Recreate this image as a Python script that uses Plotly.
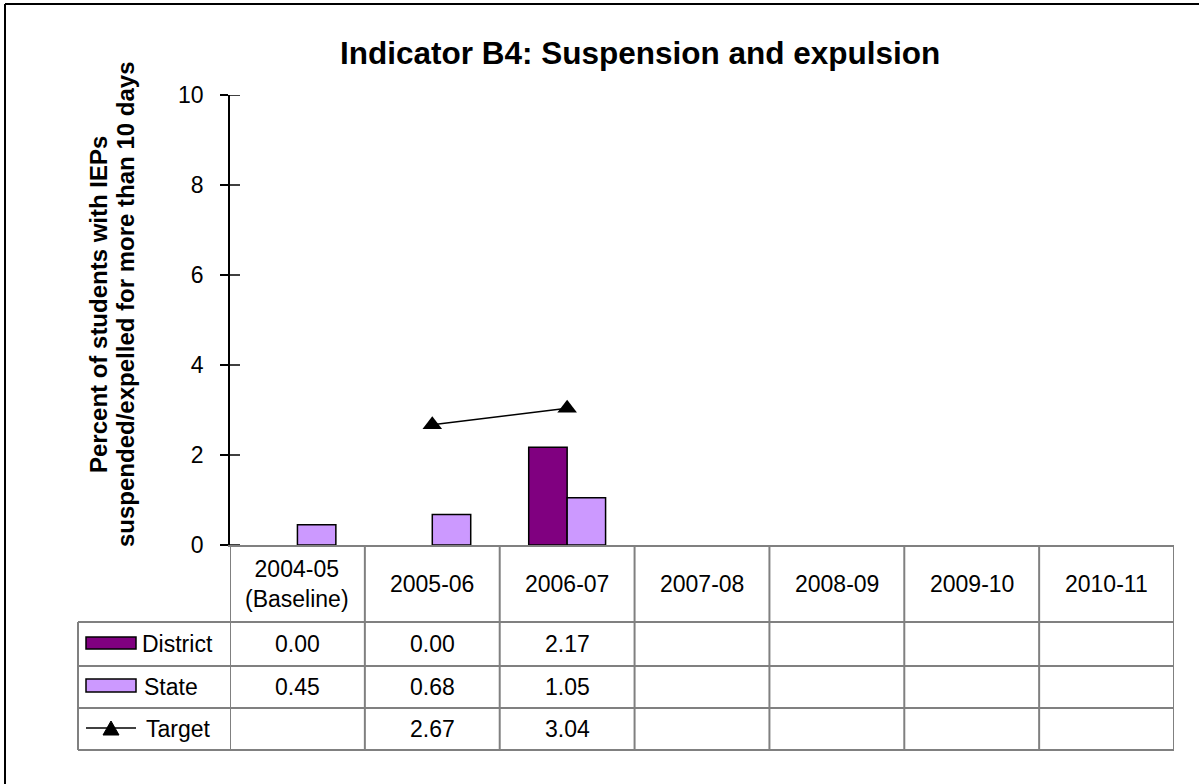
import plotly.graph_objects as go

# ---------------- data ----------------
categories = ["2004-05", "2005-06", "2006-07", "2007-08", "2008-09", "2009-10", "2010-11"]
header_labels = ["2004-05<br>(Baseline)", "2005-06", "2006-07", "2007-08", "2008-09", "2009-10", "2010-11"]
district = [0.00, 0.00, 2.17, None, None, None, None]
state = [0.45, 0.68, 1.05, None, None, None, None]
target = [None, 2.67, 3.04, None, None, None, None]
y_ticks = [0, 2, 4, 6, 8, 10]
title_text = "Indicator B4: Suspension and expulsion"
ytitle_lines = ["Percent of students with IEPs", "suspended/expelled for more than 10 days"]
series_names = ["District", "State", "Target"]

# ---------------- layout geometry (pixels) ----------------
W, H = 1199, 784
L, R, T, B = 230, 1174, 95, 545
FONT = "Arial, 'Liberation Sans', sans-serif"
GRID = "#808080"
TXT = 23


def px(x):
    return (x - L) / (R - L)


def py(y):
    return (B - y) / (B - T)


fig = go.Figure()

fig.add_trace(go.Bar(
    x=categories, y=district, name=series_names[0],
    marker=dict(color="#800080",
                line=dict(color="black", width=[0 if (v is None or v == 0) else 1.5 for v in district])),
))
fig.add_trace(go.Bar(
    x=categories, y=state, name=series_names[1],
    marker=dict(color="#CC99FF",
                line=dict(color="black", width=[0 if (v is None or v == 0) else 1.5 for v in state])),
))
fig.add_trace(go.Scatter(
    x=categories, y=target, name=series_names[2], mode="lines+markers",
    line=dict(color="black", width=1.5),
    marker=dict(symbol="triangle-up", size=17, color="black"),
))

shapes = []
annotations = []

# y-axis inside tick halves
for t in y_ticks:
    shapes.append(dict(type="line", xref="paper", yref="y", x0=px(230), x1=px(240), y0=t, y1=t,
                       line=dict(color="black", width=1.5)))

# table: vertical lines at category boundaries
for i in range(len(categories) + 1):
    shapes.append(dict(type="line", xref="x", yref="paper", x0=i - 0.5, x1=i - 0.5,
                       y0=py(546), y1=py(750), line=dict(color=GRID, width=2)))
# legend column left edge
shapes.append(dict(type="line", xref="paper", yref="paper", x0=px(78), x1=px(78),
                   y0=py(622), y1=py(750), line=dict(color=GRID, width=2)))
# horizontal lines
for yy in [622, 666, 708, 750]:
    shapes.append(dict(type="line", xref="paper", yref="paper", x0=px(78), x1=px(1174),
                       y0=py(yy), y1=py(yy), line=dict(color=GRID, width=2)))

# header labels
for i, lab in enumerate(header_labels):
    annotations.append(dict(x=categories[i], xref="x", y=py(584), yref="paper", text=lab,
                            showarrow=False, font=dict(family=FONT, size=TXT, color="black"),
                            xanchor="center", yanchor="middle"))

row_centers = [644, 687, 729]
for row, vals in zip(row_centers, [district, state, target]):
    for i, v in enumerate(vals):
        if v is None:
            continue
        annotations.append(dict(x=categories[i], xref="x", y=py(row), yref="paper", text=f"{v:.2f}",
                                showarrow=False, font=dict(family=FONT, size=TXT, color="black"),
                                xanchor="center", yanchor="middle"))

# legend keys
shapes.append(dict(type="rect", xref="paper", yref="paper", x0=px(86), x1=px(136), y0=py(637), y1=py(649),
                   fillcolor="#800080", line=dict(color="black", width=1.5)))
shapes.append(dict(type="rect", xref="paper", yref="paper", x0=px(86), x1=px(136), y0=py(679), y1=py(692),
                   fillcolor="#CC99FF", line=dict(color="black", width=1.5)))
shapes.append(dict(type="line", xref="paper", yref="paper", x0=px(86), x1=px(136), y0=py(728), y1=py(728),
                   line=dict(color="black", width=1.5)))
shapes.append(dict(type="path", xref="paper", yref="paper",
                   path=f"M {px(103)} {py(735)} L {px(119)} {py(735)} L {px(111)} {py(721)} Z",
                   fillcolor="black", line=dict(color="black", width=1)))
for name, row, x0 in zip(series_names, row_centers, [140, 142, 144]):
    annotations.append(dict(x=px(x0), xref="paper", y=py(row), yref="paper", text=name,
                            showarrow=False, font=dict(family=FONT, size=TXT, color="black"),
                            xanchor="left", yanchor="middle"))

# title
annotations.append(dict(x=px(640), xref="paper", y=py(53), yref="paper", text=f"<b>{title_text}</b>",
                        showarrow=False, font=dict(family=FONT, size=31.5, color="black"),
                        xanchor="center", yanchor="middle"))
# y-axis title (two lines)
for line, xc in zip(ytitle_lines, [98, 125]):
    annotations.append(dict(x=px(xc), xref="paper", y=py(305), yref="paper", text=f"<b>{line}</b>",
                            showarrow=False, textangle=-90, font=dict(family=FONT, size=24, color="black"),
                            xanchor="center", yanchor="middle"))

# outer frame (top and left edges)
shapes.append(dict(type="line", xref="paper", yref="paper", x0=px(5), x1=px(1199), y0=py(4), y1=py(4),
                   line=dict(color="black", width=2)))
shapes.append(dict(type="line", xref="paper", yref="paper", x0=px(5), x1=px(5), y0=py(4), y1=py(784),
                   line=dict(color="black", width=2)))

fig.update_layout(
    width=W, height=H, autosize=False,
    margin=dict(l=L, r=W - R, t=T, b=H - B, pad=0),
    paper_bgcolor="white", plot_bgcolor="white",
    barmode="group", bargap=0.43, bargroupgap=0,
    showlegend=False,
    shapes=shapes, annotations=annotations,
    font=dict(family=FONT, color="black"),
)
fig.update_xaxes(type="category", range=[-0.5, len(categories) - 0.5], showticklabels=False, ticks="",
                 showline=True, linecolor=GRID, linewidth=2, showgrid=False, zeroline=False,
                 fixedrange=True)
fig.update_yaxes(range=[0, 10], tickvals=y_ticks, ticks="outside", ticklen=8, tickwidth=1.5,
                 tickcolor="black", showline=True, linecolor="black", linewidth=1.5,
                 showgrid=False, zeroline=False, ticklabelstandoff=12,
                 tickfont=dict(family=FONT, size=TXT, color="black"), fixedrange=True)

fig.write_html("out.html", config={"displayModeBar": False},
               post_script="document.body.style.margin='0';document.body.style.overflow='hidden';")
